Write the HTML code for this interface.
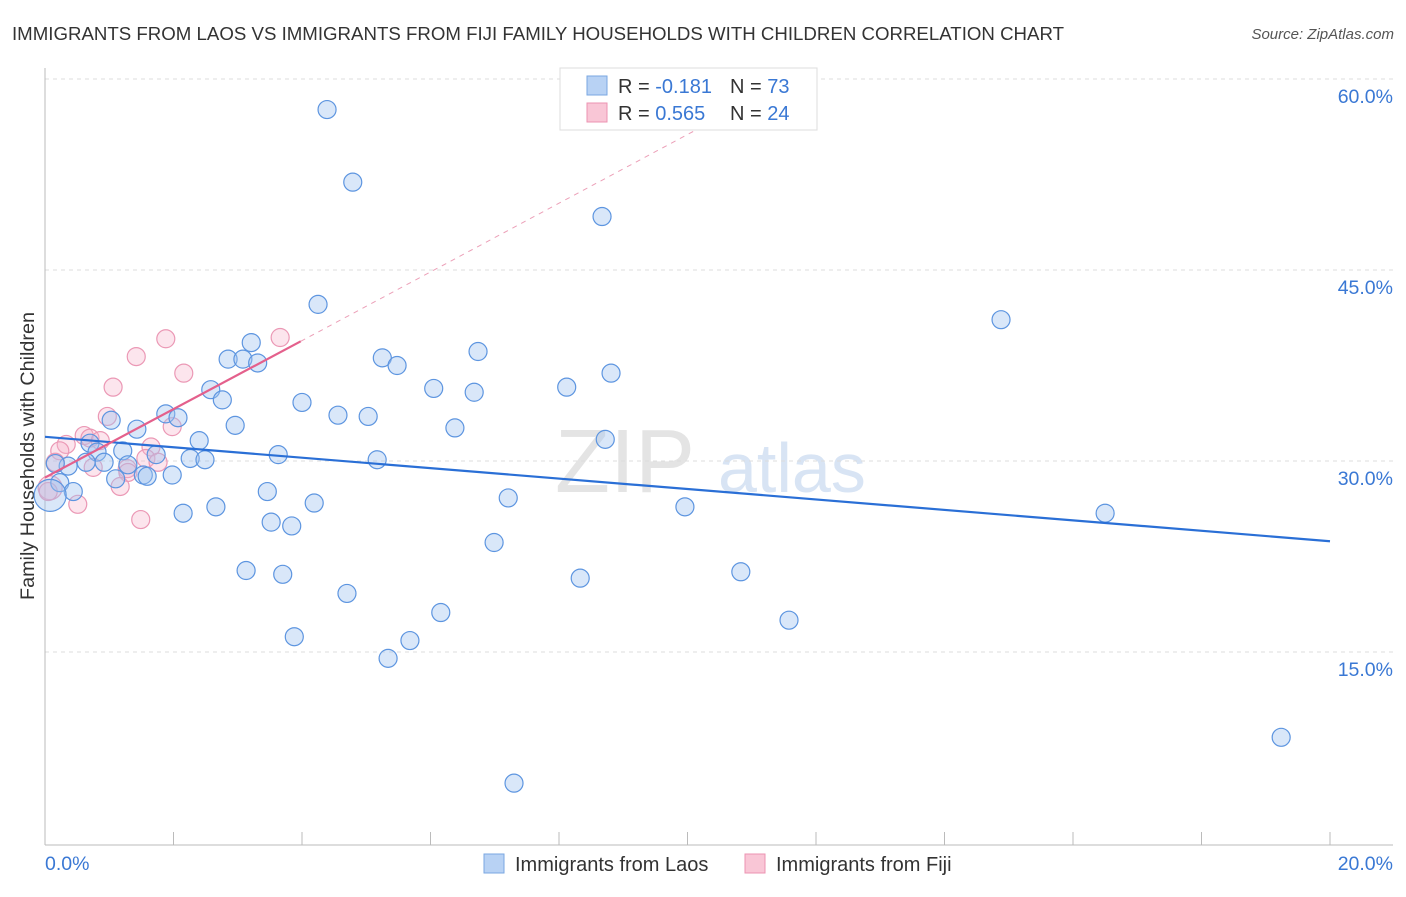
<!DOCTYPE html>
<html><head><meta charset="utf-8"><style>
body{margin:0;background:#fff;font-family:"Liberation Sans",sans-serif;}
svg text{font-family:"Liberation Sans",sans-serif;}
</style></head><body>
<svg id="c" width="1406" height="892">
<text x="12" y="40" font-size="18" fill="#333" textLength="1052" lengthAdjust="spacingAndGlyphs">IMMIGRANTS FROM LAOS VS IMMIGRANTS FROM FIJI FAMILY HOUSEHOLDS WITH CHILDREN CORRELATION CHART</text>
<text x="1394" y="39" font-size="15" fill="#555" text-anchor="end" font-style="italic">Source: ZipAtlas.com</text>
<text x="555" y="492" font-size="90" fill="#e4e4e4" font-family="Liberation Serif">ZIP</text>
<text x="718" y="492" font-size="70" fill="#d8e4f4">atlas</text>
<text transform="translate(34,600) rotate(-90)" font-size="19" fill="#333" textLength="288" lengthAdjust="spacingAndGlyphs">Family Households with Children</text>
<g id="grid"></g><g id="marks"></g>
<g>
<rect x="560" y="68" width="257" height="62" fill="#fff" stroke="#ddd"/>
<rect x="587" y="76" width="20" height="19" fill="#b8d2f4" stroke="#7aa7e2"/>
<rect x="587" y="103" width="20" height="19" fill="#f9c6d6" stroke="#ec93b2"/>
<text x="618" y="93" font-size="20" fill="#333">R = <tspan fill="#3a78d4">-0.181</tspan></text>
<text x="730" y="93" font-size="20" fill="#333">N = <tspan fill="#3a78d4">73</tspan></text>
<text x="618" y="120" font-size="20" fill="#333">R = <tspan fill="#3a78d4">0.565</tspan></text>
<text x="730" y="120" font-size="20" fill="#333">N = <tspan fill="#3a78d4">24</tspan></text>
</g>
<g>
<rect x="484" y="854" width="20" height="19" fill="#b8d2f4" stroke="#7aa7e2"/>
<text x="515" y="871" font-size="20" fill="#333">Immigrants from Laos</text>
<rect x="745" y="854" width="20" height="19" fill="#f9c6d6" stroke="#ec93b2"/>
<text x="776" y="871" font-size="20" fill="#333">Immigrants from Fiji</text>
</g>
</svg>
<script>
const yTicks=[15,30,45,60];
const yTickLabels=["15.0%","30.0%","45.0%","60.0%"];
const xTickCount=10;
const laosX=[4.39,4.79,8.67,4.25,14.88,3.21,2.85,3.08,3.31,5.25,5.48,6.74,8.81,8.12,6.05,6.68,2.58,2.76,4.00,4.56,5.03,1.88,2.07,1.03,2.96,6.38,1.43,2.40,8.72,0.70,1.21,0.81,1.73,3.63,2.26,2.49,0.92,5.17,0.36,0.16,0.64,1.29,1.53,1.59,1.98,1.10,0.23,0.44,3.46,7.21,4.19,2.66,9.96,2.15,16.50,3.52,3.84,6.99,3.13,3.70,10.83,8.33,4.70,6.16,11.58,3.88,5.68,5.34,19.24,7.30,0.08];
const laosY=[57.6,51.9,49.2,42.3,41.1,39.3,38.0,38.0,37.7,38.1,37.5,38.6,36.9,35.8,35.7,35.4,35.6,34.8,34.6,33.6,33.5,33.7,33.4,33.2,32.8,32.6,32.5,31.6,31.7,31.4,30.8,30.7,30.5,30.5,30.2,30.1,29.9,30.1,29.6,29.8,29.9,29.7,28.9,28.8,28.9,28.6,28.3,27.6,27.6,27.1,26.7,26.4,26.4,25.9,25.9,25.2,24.9,23.6,21.4,21.1,21.3,20.8,19.6,18.1,17.5,16.2,15.9,14.5,8.3,4.7,27.3];
const fijiX=[1.88,3.66,1.42,2.16,1.06,0.97,1.98,0.61,0.70,0.33,0.86,1.65,0.23,1.57,1.76,0.16,0.75,1.28,1.29,1.17,0.08,0.51,1.49,0.05];
const fijiY=[39.6,39.7,38.2,36.9,35.8,33.5,32.7,32.0,31.8,31.3,31.6,31.1,30.8,30.2,29.9,29.9,29.5,29.4,29.1,28.0,27.9,26.6,25.4,27.6];
const laosTrend=[[0,31.9],[20,23.7]];
const fijiTrend=[[0,28.7],[3.98,39.4]];
const fijiDash=[[3.98,39.4],[10.8,57.8]];
const NS="http://www.w3.org/2000/svg";
const X=v=>45+v*64.25, Y=v=>843-v*12.733;
function mk(t,a,p){const e=document.createElementNS(NS,t);for(const k in a)e.setAttribute(k,a[k]);p.appendChild(e);return e;}
const g=document.getElementById('grid'),m=document.getElementById('marks');
yTicks.forEach((t,i)=>{
 const l=mk('line',{x1:45,x2:1393,y1:Y(t),y2:Y(t),stroke:'#ddd','stroke-dasharray':'4,4'},g);
 
 const tx=mk('text',{x:1393,y:Y(t)+24,'font-size':19.5,fill:'#3a78d4','text-anchor':'end'},g);tx.textContent=yTickLabels[i];
 
});
const ax=mk('line',{x1:45,x2:45,y1:68,y2:845,stroke:'#bbb'},g);
const bx=mk('line',{x1:45,x2:1393,y1:845,y2:845,stroke:'#bbb'},g);
for(let i=0;i<=xTickCount;i++){const v=20*i/xTickCount;const t=mk('line',{x1:X(v),x2:X(v),y1:832,y2:845,stroke:'#bbb'},g);
 }
let t1=mk('text',{x:45,y:870,'font-size':19.5,fill:'#3a78d4'},g);t1.textContent='0.0%';
let t2=mk('text',{x:1393,y:870,'font-size':19.5,fill:'#3a78d4','text-anchor':'end'},g);t2.textContent='20.0%';
fijiX.forEach((v,i)=>{const c=mk('circle',{cx:X(v),cy:Y(fijiY[i]),r:i==20?12:9,fill:'rgba(246,180,202,0.35)',stroke:'#eb98b5','stroke-width':1.2},m);
 });
laosX.forEach((v,i)=>{const c=mk('circle',{cx:X(v),cy:Y(laosY[i]),r:i==70?16:9,fill:'rgba(160,195,240,0.4)',stroke:'#5d95e0','stroke-width':1.2},m);
 });
let l1=mk('line',{x1:X(laosTrend[0][0]),y1:Y(laosTrend[0][1]),x2:X(laosTrend[1][0]),y2:Y(laosTrend[1][1]),stroke:'#2a6fd6','stroke-width':2.2},m);

let l2=mk('line',{x1:X(fijiTrend[0][0]),y1:Y(fijiTrend[0][1]),x2:X(fijiTrend[1][0]),y2:Y(fijiTrend[1][1]),stroke:'#e4608c','stroke-width':2.2},m);

let l3=mk('line',{x1:X(fijiDash[0][0]),y1:Y(fijiDash[0][1]),x2:X(fijiDash[1][0]),y2:Y(fijiDash[1][1]),stroke:'#eca0b8','stroke-width':1,'stroke-dasharray':'5,5'},m);

</script>
</body></html>
